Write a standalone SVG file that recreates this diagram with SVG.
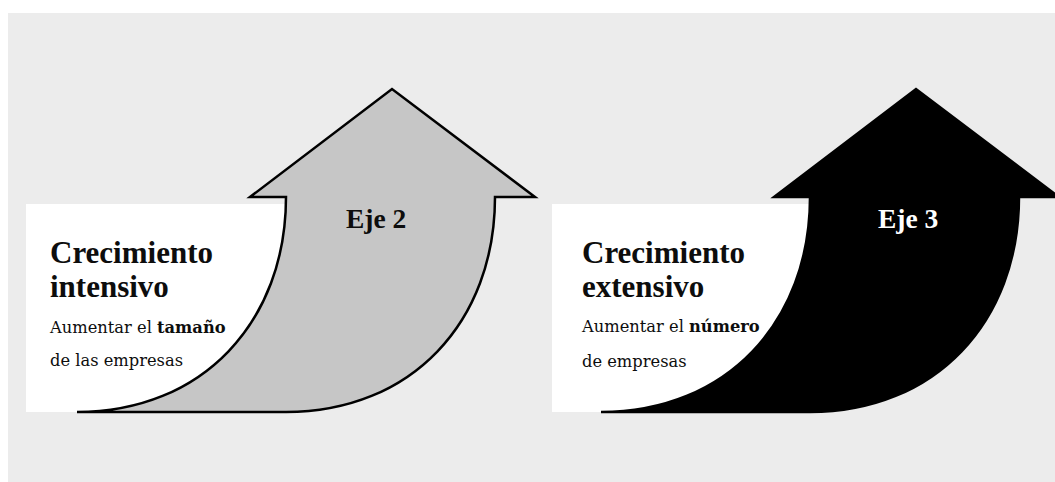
<svg xmlns="http://www.w3.org/2000/svg" width="1055" height="482" viewBox="0 0 1055 482">
<defs>
<style>
.page{fill:#ececec}
.box{fill:#ffffff}
.arrow{stroke:#000000;stroke-width:2.5;stroke-linejoin:miter}
.grey{fill:#c6c6c6}
.black{fill:#000000}
.head{font-family:"Liberation Serif","DejaVu Serif",serif;font-weight:bold;font-size:31px;fill:#0d0d0d}
.body{font-family:"DejaVu Serif","Liberation Serif",serif;font-size:16.3px;fill:#0d0d0d}
.eje{font-family:"Liberation Serif","DejaVu Serif",serif;font-weight:bold;font-size:27.5px}
.b{font-weight:bold}
</style>
<path id="arrowShape" d="M77,412 C202.4,412 286,321.7 286,197 L250,197 L392,89 L535,197 L495,197 C495,321.7 411.4,412 286,412 Z"/>
</defs>
<rect class="page" x="8" y="13" width="1047" height="469"/>

<g id="node-intensivo">
<rect class="box" x="26" y="204" width="262" height="208"/>
<use href="#arrowShape" class="arrow grey"/>
<text class="eje" x="346" y="228" fill="#0d0d0d">Eje 2</text>
<text class="head" x="50" y="263">Crecimiento</text>
<text class="head" x="50" y="297">intensivo</text>
<text class="body" x="50" y="333">Aumentar el <tspan class="b">tamaño</tspan></text>
<text class="body" x="50" y="366">de las empresas</text>
</g>

<g id="node-extensivo">
<rect class="box" x="552" y="204" width="260" height="208"/>
<use href="#arrowShape" class="arrow black" transform="translate(524,0)"/>
<text class="eje" x="878" y="228" fill="#ffffff">Eje 3</text>
<text class="head" x="582" y="263">Crecimiento</text>
<text class="head" x="582" y="297">extensivo</text>
<text class="body" x="582" y="332">Aumentar el <tspan class="b">número</tspan></text>
<text class="body" x="582" y="367">de empresas</text>
</g>

<g id="connectors"/>
</svg>
